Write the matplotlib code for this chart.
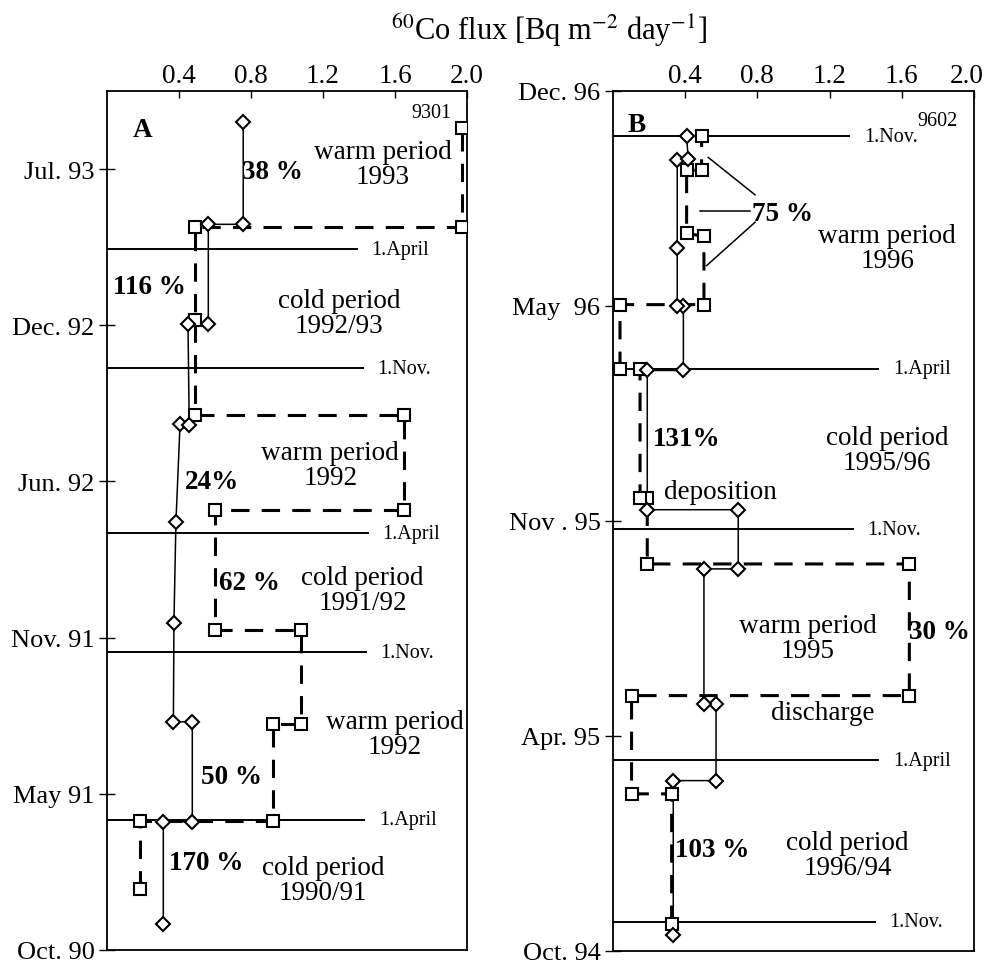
import matplotlib
matplotlib.use("Agg")
import matplotlib.pyplot as plt
import matplotlib.transforms as mtransforms

plt.rcParams["font.family"] = ["Liberation Serif", "DejaVu Serif"]
plt.rcParams["mathtext.fontset"] = "stix"

# ---- panel A (time axis: months after Oct. 1990) ----
a_dia_flux = [0.313, 0.313, 0.474, 0.474, 0.369, 0.372, 0.383, 0.406, 0.457, 0.45, 0.563, 0.563, 0.757, 0.757]
a_dia_t = [1.08, 5.34, 5.34, 9.5, 9.5, 13.6, 17.8, 21.9, 21.85, 26.05, 26.05, 30.2, 30.2, 34.47]
a_sq_flux = [0.183, 0.183, 0.924, 0.924, 1.076, 1.076, 0.6, 0.6, 1.65, 1.65, 0.489, 0.489, 0.489, 1.97, 1.97]
a_sq_t = [2.54, 5.38, 5.38, 9.4, 9.4, 13.3, 13.3, 18.3, 18.3, 22.26, 22.26, 26.2, 30.1, 30.1, 34.2]
a_ref_t = [5.41, 12.4, 17.35, 24.2, 29.17]
a_ref_end = [1.43, 1.44, 1.45, 1.42, 1.39]
a_ref_lbl = ["1.April", "1.Nov.", "1.April", "1.Nov.", "1.April"]
a_ticks = [0, 6.5, 13, 19.5, 26, 32.5]
a_tick_lbls = ["Oct. 90", "May 91", "Nov. 91", "Jun. 92", "Dec. 92", "Jul. 93"]

# ---- panel B (months after Oct. 1994) ----
b_dia_flux = [0.334, 0.334, 0.571, 0.571, 0.504, 0.504, 0.694, 0.694, 0.19, 0.19, 0.39, 0.39, 0.356, 0.356, 0.356, 0.417, 0.408]
b_dia_t = [0.48, 5.15, 5.15, 7.47, 7.47, 11.55, 11.55, 13.34, 13.34, 17.55, 17.55, 19.5, 19.5, 21.25, 23.9, 23.94, 24.63]
b_sq_flux = [0.325, 0.325, 0.103, 0.103, 1.642, 1.642, 0.19, 0.19, 0.15, 0.15, 0.039, 0.039, 0.504, 0.504, 0.408, 0.408, 0.491, 0.491]
b_sq_t = [0.82, 4.75, 4.75, 7.72, 7.72, 11.7, 11.7, 13.7, 13.7, 17.6, 17.6, 19.54, 19.54, 21.6, 21.7, 23.6, 23.6, 24.63]
b_ref_t = [0.88, 5.77, 12.75, 17.6, 24.63]
b_ref_end = [1.45, 1.47, 1.33, 1.47, 1.31]
b_ref_lbl = ["1.Nov.", "1.April", "1.Nov.", "1.April", "1.Nov."]
b_ticks = [0, 6.5, 13, 19.5, 26]
b_tick_lbls = ["Oct. 94", "Apr. 95", "Nov . 95", "May  96", "Dec. 96"]

x_ticks = [0.4, 0.8, 1.2, 1.6, 2.0]

fig = plt.figure(figsize=(9.85, 9.70), dpi=100)
axA = fig.add_axes([0.1086, 0.0196, 0.3655, 0.8856])
axB = fig.add_axes([0.6223, 0.0186, 0.3665, 0.8866])


def setup(ax, ticks, labels, top, ref_t, ref_end, ref_lbl, dia_x, dia_t, sq_x, sq_t):
    ax.set_xlim(0, 2.0)
    ax.set_ylim(0, top)
    ax.xaxis.tick_top()
    ax.set_xticks(x_ticks)
    ax.set_xticklabels([f"{v:.1f}" for v in x_ticks])
    ax.set_yticks(ticks)
    ax.set_yticklabels(labels)
    ax.tick_params(axis="x", direction="in", length=5, width=1, labelsize=19.5, pad=2)
    ax.tick_params(axis="y", direction="inout", length=12, width=1, labelsize=19, pad=3)
    for s in ax.spines.values():
        s.set_linewidth(1.3)
    # period boundaries
    for t, end, lbl in zip(ref_t, ref_end, ref_lbl):
        ax.plot([0, end], [t, t], color="black", lw=1.4, zorder=1)
        ax.text(end + 0.08, t, lbl, fontsize=14.5, ha="left", va="center")
    # squares, dashed
    ax.plot(sq_x, sq_t, color="black", lw=2.2, ls=(0, (6, 4)), zorder=2)
    # diamonds, solid
    ax.plot(dia_x, dia_t, color="black", lw=1.1, zorder=3)
    ax.plot(sq_x, sq_t, ls="none", marker="s", ms=8, mfc="white", mec="black", mew=1.5, zorder=4)
    ax.plot(dia_x, dia_t, ls="none", marker="D", ms=7.5, mfc="white", mec="black", mew=1.5, zorder=5)


setup(axA, a_ticks, a_tick_lbls, 35.75, a_ref_t, a_ref_end, a_ref_lbl,
      a_dia_flux, a_dia_t, a_sq_flux, a_sq_t)
setup(axB, b_ticks, b_tick_lbls, 26, b_ref_t, b_ref_end, b_ref_lbl,
      b_dia_flux, b_dia_t, b_sq_flux, b_sq_t)

# last tick label of panel B sits at the figure edge; nudge it left a little
lbl = axB.get_xticklabels()[-1]
lbl.set_transform(lbl.get_transform() + mtransforms.ScaledTranslation(-5 / 72, 0, fig.dpi_scale_trans))

big = dict(fontsize=19.5, ha="center", va="center", linespacing=1.0)
bold = dict(fontsize=19.5, fontweight="bold", ha="center", va="center")

# panel A texts
axA.text(0.2, 34.15, "A", **bold)
axA.text(1.8, 34.85, "9301", fontsize=14.5, ha="center", va="center")
axA.text(1.53, 32.7, "warm period\n1993", **big)
axA.text(0.92, 32.4, "38 %", **bold)
axA.text(0.235, 27.6, "116 %", **bold)
axA.text(1.29, 26.5, "cold period\n1992/93", **big)
axA.text(1.24, 20.2, "warm period\n1992", **big)
axA.text(0.585, 19.5, "24%", **bold)
axA.text(0.79, 15.3, "62 %", **bold)
axA.text(1.42, 15.0, "cold period\n1991/92", **big)
axA.text(1.6, 9.0, "warm period\n1992", **big)
axA.text(0.69, 7.2, "50 %", **bold)
axA.text(0.55, 3.65, "170 %", **bold)
axA.text(1.2, 2.9, "cold period\n1990/91", **big)

# panel B texts
axB.text(0.133, 25.0, "B", **bold)
axB.text(1.8, 25.1, "9602", fontsize=14.5, ha="center", va="center")
axB.text(1.52, 21.25, "warm period\n1996", **big)
axB.text(0.94, 22.3, "75 %", **bold)
axB.plot([0.528, 0.787], [23.99, 22.86], color="black", lw=1.1)
axB.plot([0.482, 0.759], [22.37, 22.37], color="black", lw=1.1)
axB.plot([0.519, 0.787], [20.72, 22.03], color="black", lw=1.1)
axB.text(0.41, 15.48, "131%", **bold)
axB.text(1.52, 15.15, "cold period\n1995/96", **big)
axB.text(0.593, 13.9, "deposition", fontsize=19.5, ha="center", va="center")
axB.text(1.08, 9.46, "warm period\n1995", **big)
axB.text(1.81, 9.67, "30 %", **bold)
axB.text(1.16, 7.22, "discharge", fontsize=19.5, ha="center", va="center")
axB.text(0.55, 3.08, "103 %", **bold)
axB.text(1.30, 2.9, "cold period\n1996/94", **big)

fig.text(0.557, 0.969, r"$^{60}$Co flux [Bq m$^{-2}$ day$^{-1}$]",
         fontsize=22, ha="center", va="center")

fig.savefig("out.png", dpi=100)
